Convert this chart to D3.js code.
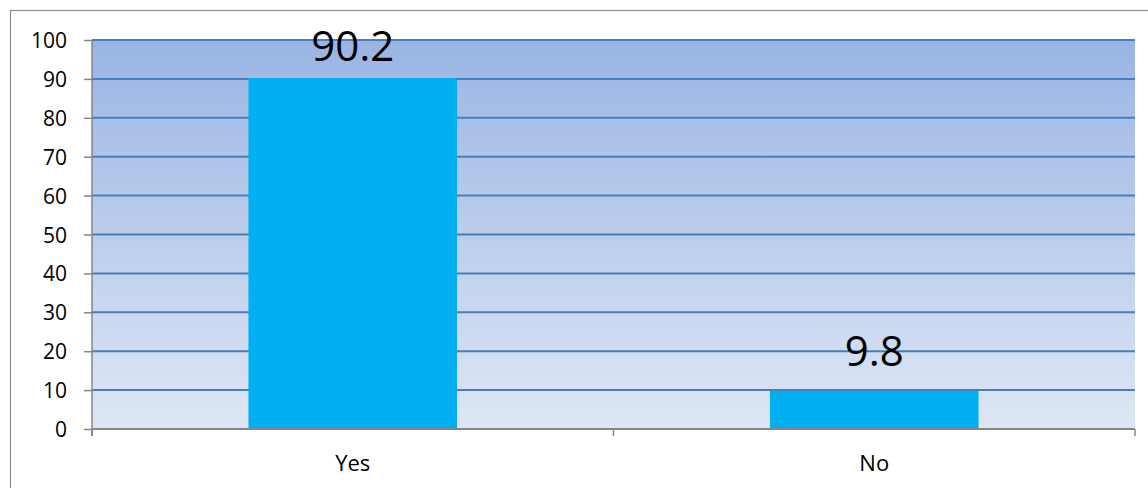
<!DOCTYPE html>
<html>
<head>
<meta charset="utf-8">
<script src="https://cdn.jsdelivr.net/npm/d3@7"></script>
<style>
  html, body { margin: 0; padding: 0; background: #ffffff; }
  svg { display: block; }
  text { font-family: "Open Sans", "Noto Sans", sans-serif; fill: #000; }
</style>
</head>
<body>
<svg id="chart" width="1148" height="488"></svg>
<script>
// Chart data
const categories = ["Yes", "No"];
const values = [90.2, 9.8];
const yTicks = [0, 10, 20, 30, 40, 50, 60, 70, 80, 90, 100];

const W = 1148, H = 488;
const margin = { left: 92, right: 13, top: 40, bottom: 59 };
const innerW = W - margin.left - margin.right;
const innerH = H - margin.top - margin.bottom;

const svg = d3.select("#chart");

// Outer frame of the chart object
svg.append("rect")
  .attr("x", 10.5).attr("y", 10.5)
  .attr("width", W + 20).attr("height", H + 20)
  .attr("fill", "#ffffff")
  .attr("stroke", "#8c8c8c").attr("stroke-width", 1.2);

// Plot-area gradient
const defs = svg.append("defs");
const grad = defs.append("linearGradient")
  .attr("id", "plotFill").attr("x1", 0).attr("y1", 0).attr("x2", 0).attr("y2", 1);
grad.append("stop").attr("offset", "0%").attr("stop-color", "#9ab5e4");
grad.append("stop").attr("offset", "100%").attr("stop-color", "#dee6f4");

const g = svg.append("g").attr("transform", `translate(${margin.left},${margin.top})`);

const x = d3.scaleBand().domain(categories).range([0, innerW]).paddingInner(0.6).paddingOuter(0.3);
const y = d3.scaleLinear().domain([0, 100]).range([innerH, 0]);

g.append("rect")
  .attr("x", 0).attr("y", 0)
  .attr("width", innerW).attr("height", innerH)
  .attr("fill", "url(#plotFill)");

// Horizontal gridlines
g.append("g")
  .selectAll("line")
  .data(yTicks.filter(d => d > 0))
  .join("line")
  .attr("x1", 0).attr("x2", innerW)
  .attr("y1", d => y(d)).attr("y2", d => y(d))
  .attr("stroke", "#4a7ebb").attr("stroke-width", 2);

// Bars
g.append("g")
  .selectAll("rect")
  .data(values)
  .join("rect")
  .attr("x", (d, i) => x(categories[i]))
  .attr("y", d => y(d))
  .attr("width", x.bandwidth())
  .attr("height", d => innerH - y(d))
  .attr("fill", "#00b0f0");

// Value labels
g.append("g")
  .selectAll("text")
  .data(values)
  .join("text")
  .attr("x", (d, i) => x(categories[i]) + x.bandwidth() / 2)
  .attr("y", d => Math.max(y(d) - 25, 21))
  .attr("text-anchor", "middle")
  .style("font-size", "42px")
  .text(d => d);

// Y axis
const yAxis = d3.axisLeft(y).tickValues(yTicks).tickSize(8).tickPadding(17).tickFormat(d3.format("d"));
const yg = g.append("g").call(yAxis);
yg.select(".domain").remove();
yg.selectAll(".tick line").attr("stroke", "#868686").attr("stroke-width", 1.5);
yg.selectAll(".tick text")
  .attr("font-size", null).attr("font-family", null)
  .style("font-size", "21px").attr("dy", "0.36em");
g.append("line")
  .attr("x1", 0).attr("x2", 0).attr("y1", 0).attr("y2", innerH + 7)
  .attr("stroke", "#868686").attr("stroke-width", 1.5);

// X axis with boundary ticks between categories
g.append("line")
  .attr("x1", 0).attr("x2", innerW).attr("y1", innerH).attr("y2", innerH)
  .attr("stroke", "#868686").attr("stroke-width", 1.8);
const step = innerW / categories.length;
g.append("g")
  .selectAll("line")
  .data(d3.range(categories.length + 1))
  .join("line")
  .attr("x1", d => d * step).attr("x2", d => d * step)
  .attr("y1", innerH).attr("y2", innerH + 7)
  .attr("stroke", "#868686").attr("stroke-width", 1.5);

g.append("g")
  .selectAll("text")
  .data(categories)
  .join("text")
  .attr("x", d => x(d) + x.bandwidth() / 2)
  .attr("y", innerH + 42)
  .attr("text-anchor", "middle")
  .style("font-size", "22px")
  .text(d => d);
</script>
</body>
</html>
